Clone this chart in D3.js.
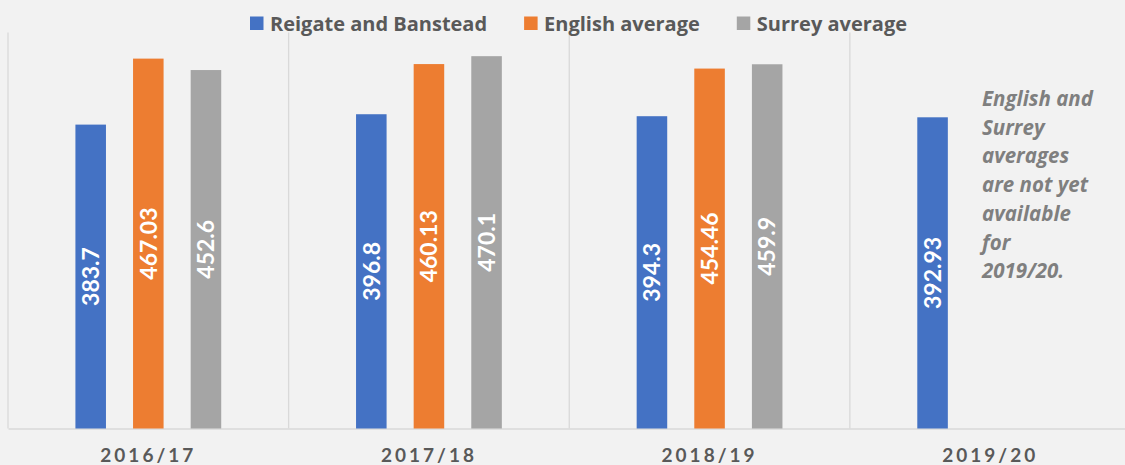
<!DOCTYPE html>
<html>
<head>
<meta charset="utf-8">
<script src="https://cdn.jsdelivr.net/npm/d3@7"></script>
<style>
  html, body { margin: 0; padding: 0; background: #f2f2f2; }
  svg { display: block; font-family: Lato, "Open Sans", sans-serif; }
</style>
</head>
<body>
<script>
const years = ["2016/17", "2017/18", "2018/19", "2019/20"];
const seriesNames = ["Reigate and Banstead", "English average", "Surrey average"];
const reigate = [383.7, 396.8, 394.3, 392.93];
const english = [467.03, 460.13, 454.46, null];
const surrey = [452.6, 470.1, 459.9, null];
const colors = ["#4472c4", "#ed7d31", "#a5a5a5"];
const noteLines = ["English and", "Surrey", "averages", "are not yet", "available", "for", "2019/20."];

const width = 1125;
const height = 465;
const margin = { top: 32.5, bottom: 36.5, left: 8, right: -5.5 };

const svg = d3.select('body').append('svg')
    .attr('width', width)
    .attr('height', height);

const allSeries = [reigate, english, surrey];
const data = years.map((y, i) => ({
    year: y,
    values: seriesNames.map((s, j) => ({ name: s, value: allSeries[j][i], color: colors[j] }))
}));

// scales
const x0 = d3.scaleBand()
    .domain(years)
    .range([margin.left, width - margin.right]);

const x1 = d3.scaleBand()
    .domain(seriesNames)
    .range([0, x0.bandwidth()])
    .paddingInner(0.47)
    .paddingOuter(1.17);

const yScale = d3.scaleLinear()
    .domain([0, 500])
    .range([height - margin.bottom, margin.top]);

// vertical gridlines between categories
svg.append('g').attr('class', 'grid')
    .selectAll('line')
    .data(years)
    .enter()
    .append('line')
    .attr('x1', d => x0(d))
    .attr('x2', d => x0(d))
    .attr('y1', yScale(500))
    .attr('y2', yScale(0))
    .attr('stroke', '#d9d9d9')
    .attr('stroke-width', 1.3);

// x axis
const xAxis = d3.axisBottom(x0).tickSize(0).tickPadding(0);
const gx = svg.append('g').attr('class', 'axis')
    .attr('transform', `translate(0,${yScale(0)})`)
    .call(xAxis);
gx.select('.domain').attr('stroke', '#d9d9d9').attr('stroke-width', 1.5);
gx.selectAll('text')
    .attr('y', 0)
    .attr('dy', '33px')
    .attr('fill', '#595959')
    .style('font-family', 'Lato, sans-serif')
    .style('font-size', '19px')
    .style('font-weight', 700)
    .style('letter-spacing', '3px');

// bars
const groups = svg.append('g').attr('class', 'bars')
    .selectAll('g')
    .data(data)
    .enter()
    .append('g')
    .attr('transform', d => `translate(${x0(d.year)},0)`);

const items = groups.selectAll('g')
    .data(d => d.values.filter(v => v.value != null))
    .enter()
    .append('g');

items.append('rect')
    .attr('x', d => x1(d.name))
    .attr('width', x1.bandwidth())
    .attr('y', d => yScale(d.value))
    .attr('height', d => yScale(0) - yScale(d.value))
    .attr('fill', d => d.color);

items.append('text')
    .attr('transform', d => `translate(${x1(d.name) + x1.bandwidth() / 2},${(yScale(d.value) + yScale(0)) / 2}) rotate(-90)`)
    .attr('text-anchor', 'middle')
    .attr('dy', '0.36em')
    .attr('fill', '#ffffff')
    .style('font-size', '23px')
    .style('font-weight', 700)
    .text(d => d.value);

// legend
const legend = svg.append('g').attr('class', 'legend');
let lx = 250;
seriesNames.forEach((name, i) => {
    legend.append('rect')
        .attr('x', lx)
        .attr('y', 16.5)
        .attr('width', 13.5)
        .attr('height', 13.5)
        .attr('fill', colors[i]);
    const t = legend.append('text')
        .attr('x', lx + 20)
        .attr('y', 30.5)
        .attr('fill', '#595959')
        .style('font-family', '"Open Sans", sans-serif')
        .style('font-size', '20px')
        .style('font-weight', 700)
        .text(name);
    lx += 20 + t.node().getComputedTextLength() + 37;
});

// note
svg.append('text')
    .attr('class', 'note')
    .attr('fill', '#7f7f7f')
    .style('font-family', '"Open Sans", sans-serif')
    .style('font-size', '20.5px')
    .style('font-weight', 700)
    .style('font-style', 'italic')
    .selectAll('tspan')
    .data(noteLines)
    .enter()
    .append('tspan')
    .attr('x', 982)
    .attr('y', (d, i) => 106 + i * 28.7)
    .text(d => d);
</script>
</body>
</html>
